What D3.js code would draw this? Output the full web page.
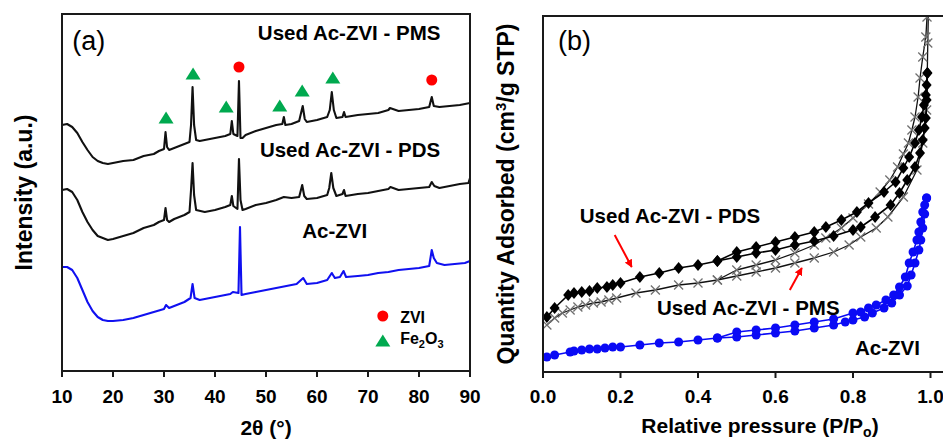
<!DOCTYPE html>
<html><head><meta charset="utf-8">
<script src="https://cdn.jsdelivr.net/npm/d3@7"></script>
<style>
body{margin:0;background:#fff}
text{font-family:'Liberation Sans',Arial,Helvetica,sans-serif}
</style></head>
<body><svg id="c" width="943" height="443"></svg>
<script>
// ---------- Panel (a): XRD data (intensity in a.u.) ----------
const xrdTicks = [10,20,30,40,50,60,70,80,90];

const pmsTheta = [10,11,12,13,14,15,16,17,18,19,20,22,24,26,28,29,30,30.3,30.6,31,32,33,34,35,35.3,35.6,35.9,36.3,37,38,40,42,43,43.3,43.6,44.4,44.7,45.0,45.4,46,48,50,52,53.2,53.5,53.8,55,56.5,57.2,57.6,58,60,62,62.5,62.9,63.3,63.8,65,65.3,65.6,68,70,72,74,74.3,76,78,80,82,82.5,82.9,84,86,88,90];
const pmsI     = [246,247,244,238,229,221,214,210,208,207,208,210,211,215,217,220,222,239,224,221,223,225,227,229,246,284,246,231,230,231,233,235,237,250,237,235,290,233,233,236,240,243,246,247,254,246,247,250,265,252,249,251,254,261,279,261,253,254,259,254,256,257,258,261,263,260,261,262,264,274,265,264,265,266,268];

const pdsTheta = [10,11,12,13,14,15,16,17,18,19,20,22,24,26,28,29,30,30.3,30.6,31,32,34,35,35.3,35.6,35.9,36.3,38,40,42,43,43.3,43.6,44.4,44.7,45.0,45.4,46,48,50,52,53.5,55,56.5,57.1,57.5,58,60,62,62.4,62.8,63.2,63.8,65,65.3,65.6,68,70,72,74,74.4,76,78,80,82,82.5,83,84,86,88,89.7,90];
const pdsI     = [181,182,179,171,159,149,141,135,133,131,132,135,138,143,146,149,151,163,151,149,152,156,159,181,208,176,161,159,161,164,166,175,165,162,212,171,161,162,166,168,171,174,173,174,186,175,172,173,176,183,198,183,175,177,181,175,177,178,180,182,184,181,182,183,184,189,185,183,185,187,188,193];

const acTheta  = [10,11,12,13,14,15,16,17,18,19,20,22,24,26,28,30,30.4,31,32,34,35.2,35.6,36,37,38,40,42,43,43.5,44.6,44.9,45.2,46,48,50,52,54,56,57.3,58,60,62,62.9,63.5,64.5,65.2,65.7,68,70,72,74,76,78,80,82,82.5,82.9,83.5,85,87,89,90];
const acI      = [104,104,101,93,81,69,60,54,51,50,50,51,53,56,59,62,66,63,65,69,73,87,73,71,72,74,76,77,79,78,144,76,77,79,81,83,85,87,93,87,88,91,98,93,94,100,94,95,96,98,99,101,102,103,105,121,113,108,106,107,108,110];

// peak markers
const fe2o3Theta = [30.4,35.7,42.2,52.7,57.1,63.1];
const fe2o3Y     = [253,297,264,265,280,293];
const zviTheta   = [44.7,82.5];
const zviY       = [304,291];

// ---------- Panel (b): N2 isotherms (quantity, a.u.) ----------
const pTicks = [0.0,0.2,0.4,0.6,0.8,1.0];

const acAdsP = [0.01,0.03,0.07,0.08,0.10,0.12,0.14,0.16,0.18,0.20,0.25,0.30,0.35,0.40,0.45,0.50,0.55,0.60,0.65,0.70,0.75,0.78,0.80,0.83,0.85,0.88,0.90,0.92,0.94,0.95,0.96,0.97,0.975,0.98,0.985,0.99];
const acAdsQ = [15,17,20,21,22,23,23,24,25,25,27,29,30,32,34,35,37,39,41,44,47,50,52,55,59,64,69,77,86,97,109,122,132,144,158,174];
const acDesP = [0.99,0.985,0.98,0.975,0.97,0.965,0.955,0.945,0.935,0.92,0.905,0.885,0.86,0.84,0.82,0.80,0.75,0.70,0.65,0.60,0.55,0.50,0.45];
const acDesQ = [174,167,160,150,140,132,120,109,95,85,77,72,67,64,60,59,53,50,47,44,42,40,34];

const pdsAdsP = [0.01,0.03,0.065,0.08,0.10,0.12,0.14,0.165,0.18,0.20,0.25,0.30,0.35,0.40,0.45,0.50,0.55,0.60,0.65,0.70,0.75,0.80,0.82,0.857,0.897,0.92,0.94,0.96,0.973,0.98,0.985,0.988,0.99,0.992];
const pdsAdsQ = [55,64,77,79,80,81,84,85,87,89,95,99,104,107,111,115,119,122,127,131,136,142,145,155,167,179,192,205,219,232,244,254,272,299];
const pdsDesP = [0.992,0.99,0.988,0.983,0.978,0.97,0.96,0.945,0.93,0.91,0.88,0.84,0.81,0.77,0.73,0.70,0.65,0.60,0.55,0.50,0.45];
const pdsDesQ = [299,287,277,267,255,242,229,215,204,190,180,169,160,152,145,140,135,130,125,120,111];

const pmsAdsP = [0.01,0.03,0.05,0.07,0.09,0.11,0.13,0.15,0.17,0.19,0.24,0.29,0.35,0.40,0.45,0.50,0.55,0.60,0.65,0.70,0.75,0.79,0.82,0.86,0.89,0.93,0.965,0.98,0.99,0.993,0.995];
const pmsAdsQ = [47,54,59,62,65,67,69,70,72,74,79,82,87,89,92,96,100,104,109,114,120,127,135,144,155,175,202,229,262,329,370];
const pmsDesP = [0.995,0.991,0.988,0.98,0.973,0.968,0.96,0.952,0.943,0.93,0.915,0.895,0.87,0.84,0.80,0.77,0.73,0.70,0.65,0.60,0.55,0.50,0.45];
const pmsDesQ = [380,355,335,315,294,275,255,242,229,218,205,192,180,168,154,144,134,127,119,112,107,102,92];

// ---------- drawing ----------
const svg = d3.select('#c');
const FONT_B = 'bold';

// Panel (a) scales
const xa = d3.scaleLinear().domain([10,90]).range([62,470]);
const ya = d3.scaleLinear().domain([0,357]).range([371,14]);
// Panel (b) scales
const xb = d3.scaleLinear().domain([0,1]).range([543,930.5]);
const yb = d3.scaleLinear().domain([0,356]).range([372,16]);

const defs = svg.append('defs');
defs.append('clipPath').attr('id','clipb').append('rect')
  .attr('x',xb(0)).attr('y',yb(356)).attr('width',xb(1.04)-xb(0)).attr('height',yb(0)-yb(356));

// ---- Panel (a) ----
const ga = svg.append('g');
const lineA = d3.line().x(d=>xa(d[0])).y(d=>ya(d[1]));
function drawXrd(th, I, color){
  ga.append('path').datum(d3.zip(th,I)).attr('d',lineA)
    .attr('fill','none').attr('stroke',color).attr('stroke-width',2.1).attr('stroke-linejoin','round');
}
drawXrd(acTheta, acI, '#1010f0');
drawXrd(pdsTheta, pdsI, '#111');
drawXrd(pmsTheta, pmsI, '#111');

const triPath = 'M0,-6.5L7.5,5.5L-7.5,5.5Z';
ga.selectAll('.tri').data(d3.zip(fe2o3Theta,fe2o3Y)).join('path')
  .attr('d',triPath).attr('fill','#00a94f')
  .attr('transform',d=>`translate(${xa(d[0])},${ya(d[1])})`);
ga.selectAll('.zvi').data(d3.zip(zviTheta,zviY)).join('circle')
  .attr('cx',d=>xa(d[0])).attr('cy',d=>ya(d[1])).attr('r',5.5).attr('fill','#ff0000');

// frame (a)
ga.append('rect').attr('x',xa(10)).attr('y',ya(357)).attr('width',xa(90)-xa(10)).attr('height',ya(0)-ya(357))
  .attr('fill','none').attr('stroke','#1a1a1a').attr('stroke-width',2);
// ticks (a)
ga.selectAll('.tk').data(xrdTicks).join('line')
  .attr('x1',d=>xa(d)).attr('x2',d=>xa(d)).attr('y1',ya(0)).attr('y2',ya(0)+6)
  .attr('stroke','#1a1a1a').attr('stroke-width',2);
ga.selectAll('.tl').data(xrdTicks).join('text')
  .attr('x',d=>xa(d)).attr('y',403).attr('text-anchor','middle')
  .attr('font-size',19).attr('font-weight',FONT_B).text(d=>d);

// labels (a)
function label(g, x, y, txt, size, weight){
  return g.append('text').attr('x',x).attr('y',y).attr('font-size',size).attr('font-weight',weight||FONT_B).text(txt);
}
label(ga, xa(12.0), ya(321), '(a)', 27, 'normal');
label(ga, xa(48.4), ya(331), 'Used Ac-ZVI - PMS', 20.5);
label(ga, xa(48.8), ya(214), 'Used Ac-ZVI - PDS', 20.5);
label(ga, xa(57.1), ya(133), 'Ac-ZVI', 20.5);

// legend (a)
ga.append('circle').attr('cx',xa(72.9)).attr('cy',ya(55)).attr('r',5.5).attr('fill','#ff0000');
ga.append('path').attr('d',triPath).attr('fill','#00a94f').attr('transform',`translate(${xa(72.9)},${ya(30)})`);
label(ga, xa(76.3), ya(48), 'ZVI', 16);
const fe = label(ga, xa(76.3), ya(27), 'Fe', 16);
fe.append('tspan').attr('font-size',11).attr('dy',4).text('2');
fe.append('tspan').attr('font-size',16).attr('dy',-4).text('O');
fe.append('tspan').attr('font-size',11).attr('dy',4).text('3');

// axis titles (a)
ga.append('text').attr('x',(xa(10)+xa(90))/2).attr('y',435).attr('text-anchor','middle')
  .attr('font-size',21).attr('font-weight',FONT_B).text('2θ (°)');
ga.append('text').attr('transform',`translate(32,${(ya(0)+ya(357))/2}) rotate(-90)`).attr('text-anchor','middle')
  .attr('font-size',23).attr('font-weight',FONT_B).text('Intensity (a.u.)');

// ---- Panel (b) ----
const gb = svg.append('g');
const gbc = gb.append('g').attr('clip-path','url(#clipb)');
const lineB = d3.line().x(d=>xb(d[0])).y(d=>yb(d[1]));

function drawIso(P, Q, color, width){
  gbc.append('path').datum(d3.zip(P,Q)).attr('d',lineB)
    .attr('fill','none').attr('stroke',color).attr('stroke-width',width).attr('stroke-linejoin','round');
}
// PMS (X markers)
drawIso(pmsAdsP, pmsAdsQ, '#111', 1.3);
drawIso(pmsDesP, pmsDesQ, '#111', 1.3);
const xPath = 'M-4.5,-4.5L4.5,4.5M-4.5,4.5L4.5,-4.5';
[[pmsAdsP,pmsAdsQ],[pmsDesP,pmsDesQ]].forEach(([P,Q])=>{
  gbc.append('g').selectAll('path').data(d3.zip(P,Q)).join('path')
    .attr('d',xPath).attr('stroke','#707070').attr('stroke-width',1.3).attr('fill','none')
    .attr('transform',d=>`translate(${xb(d[0])},${yb(d[1])})`);
});
// PDS (diamonds)
drawIso(pdsAdsP, pdsAdsQ, '#000', 1.6);
drawIso(pdsDesP, pdsDesQ, '#000', 1.6);
const dPath = 'M0,-6L5,0L0,6L-5,0Z';
[[pdsAdsP,pdsAdsQ],[pdsDesP,pdsDesQ]].forEach(([P,Q])=>{
  gbc.append('g').selectAll('path').data(d3.zip(P,Q)).join('path')
    .attr('d',dPath).attr('fill','#000')
    .attr('transform',d=>`translate(${xb(d[0])},${yb(d[1])})`);
});
// Ac-ZVI (blue circles)
drawIso(acAdsP, acAdsQ, '#0a0af5', 1.6);
drawIso(acDesP, acDesQ, '#0a0af5', 1.6);
[[acAdsP,acAdsQ],[acDesP,acDesQ]].forEach(([P,Q])=>{
  gbc.append('g').selectAll('circle').data(d3.zip(P,Q)).join('circle')
    .attr('cx',d=>xb(d[0])).attr('cy',d=>yb(d[1])).attr('r',4.5).attr('fill','#0a0af5');
});

// frame (b)
gb.append('path').attr('d',`M${xb(1.04)},${yb(356)}H${xb(0)}V${yb(0)}H${xb(1.04)}`)
  .attr('fill','none').attr('stroke','#1a1a1a').attr('stroke-width',2);
gb.selectAll('.tk').data(pTicks).join('line')
  .attr('x1',d=>xb(d)).attr('x2',d=>xb(d)).attr('y1',yb(0)).attr('y2',yb(0)+6)
  .attr('stroke','#1a1a1a').attr('stroke-width',2);
gb.selectAll('.tl').data(pTicks).join('text')
  .attr('x',d=>xb(d)).attr('y',403).attr('text-anchor','middle')
  .attr('font-size',19).attr('font-weight',FONT_B).text(d=>d3.format('.1f')(d));

// labels (b)
label(gb, xb(0.039), yb(322), '(b)', 27, 'normal');
label(gb, xb(0.095), yb(149), 'Used Ac-ZVI - PDS', 20.5);
label(gb, xb(0.294), yb(57), 'Used Ac-ZVI - PMS', 20.5);
label(gb, xb(0.805), yb(17), 'Ac-ZVI', 20.5);

// arrows (b)
const arrows = [[0.185,137,0.229,105],[0.637,82,0.668,104]];
defs.append('marker').attr('id','ah').attr('viewBox','0 0 10 10').attr('refX',9).attr('refY',5)
  .attr('markerWidth',4).attr('markerHeight',4).attr('orient','auto')
  .append('path').attr('d','M0,0L10,5L0,10Z').attr('fill','#ff0000');
gb.selectAll('.arr').data(arrows).join('line')
  .attr('x1',d=>xb(d[0])).attr('y1',d=>yb(d[1])).attr('x2',d=>xb(d[2])).attr('y2',d=>yb(d[3]))
  .attr('stroke','#ff0000').attr('stroke-width',2).attr('marker-end','url(#ah)');

// axis titles (b)
const xt = gb.append('text').attr('x',760).attr('y',433).attr('text-anchor','middle')
  .attr('font-size',21).attr('font-weight',FONT_B).text('Relative pressure (P/P');
xt.append('tspan').attr('font-size',14).attr('dy',4).text('o');
xt.append('tspan').attr('dy',-4).text(')');
const yt = gb.append('text').attr('transform',`translate(514,${(yb(0)+yb(356))/2}) rotate(-90)`).attr('text-anchor','middle')
  .attr('font-size',23).attr('font-weight',FONT_B).text('Quantity Adsorbed (cm');
yt.append('tspan').attr('font-size',15).attr('dy',-8).text('3');
yt.append('tspan').attr('dy',8).text('/g STP)');
</script></body></html>
